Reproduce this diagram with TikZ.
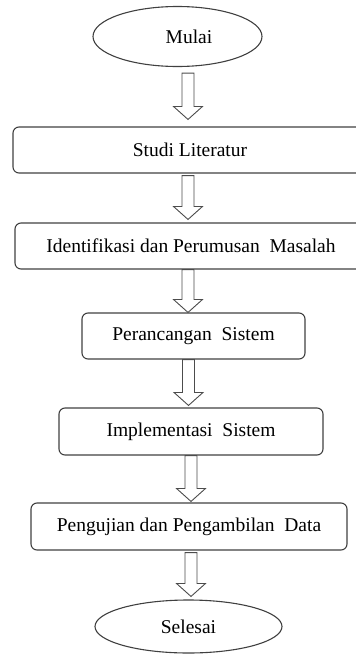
\documentclass[tikz,border=0pt]{standalone}
\usepackage{fontspec}
\setmainfont{Liberation Serif}
\usetikzlibrary{calc}
\usetikzlibrary{shapes.geometric}

% hollow block arrow: from, to, shaft centre x
\newcommand{\flowarrow}[3]{%
	\draw[blockarrow] let \p1=(#1), \p2=(#2) in
		(#3-6,\y1) -- (#3-6,\y2+13) -- (#3-14.5,\y2+13) -- (#3,\y2)
		-- (#3+14.5,\y2+13) -- (#3+6,\y2+13) -- (#3+6,\y1) -- cycle;
}

\begin{document}
\begin{tikzpicture}[x=1pt, y=1pt,
		every node/.style={draw=black!75, line width=1.1pt, inner sep=0pt, font=\fontsize{19.5}{22}\selectfont},
		term/.style={ellipse},
		stepbox/.style={rectangle, rounded corners=6pt},
		blockarrow/.style={draw=black!70, line width=0.9pt, fill=white}]
				\clip (0,0) rectangle (356,-654);
				\node[term, minimum width=169, minimum height=60] (mulai) at (177.5,-36.5) {\hspace*{23pt}Mulai};
				\node[stepbox, minimum width=354, minimum height=46] (studi) at (190,-150) {Studi Literatur};
				\node[stepbox, minimum width=352, minimum height=46] (ident) at (191,-246) {Identifikasi dan Perumusan\ \ Masalah};
				\node[stepbox, minimum width=223, minimum height=46] (ranc) at (193.5,-336) {Perancangan\ \ Sistem};
				\node[stepbox, minimum width=264, minimum height=47] (impl) at (191,-431.5) {Implementasi\ \ Sistem};
				\node[stepbox, minimum width=316, minimum height=47] (uji) at (189,-526.5) {Pengujian dan Pengambilan\ \ Data};
				\node[term, minimum width=187, minimum height=53] (selesai) at (188.5,-626.5) {Selesai};
				\flowarrow{$(mulai.south)+(0,-6)$}{$(studi.north)+(0,7)$}{188}
				\flowarrow{$(studi.south)+(0,-2)$}{$(ident.north)+(0,3)$}{188}
				\flowarrow{ident.south}{ranc.north}{188}
				\flowarrow{ranc.south}{$(impl.north)+(0,2)$}{188.5}
				\flowarrow{impl.south}{$(uji.north)+(0,1)$}{191}
				\flowarrow{$(uji.south)+(0,-2)$}{$(selesai.north)+(0,3)$}{191}
		\end{tikzpicture}
\end{document}
